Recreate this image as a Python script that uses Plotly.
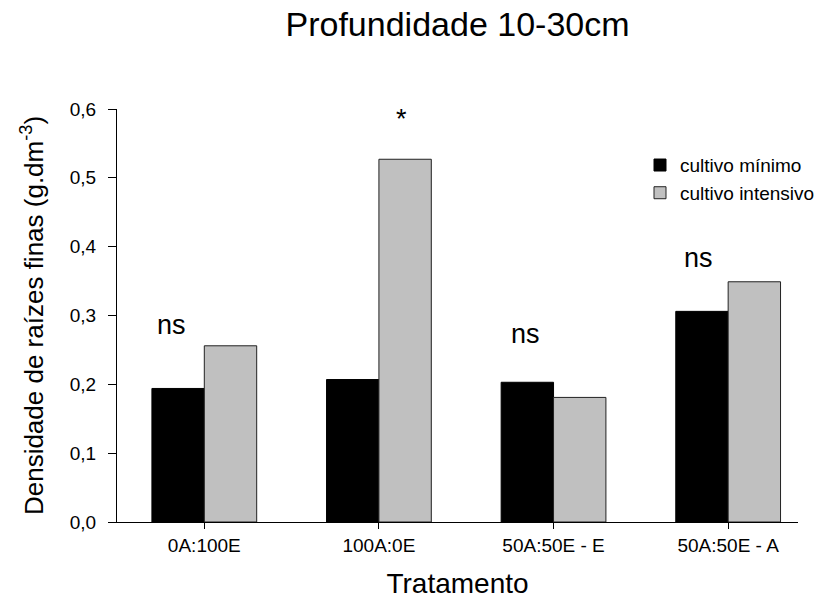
import plotly.graph_objects as go

categorias = ["0A:100E", "100A:0E", "50A:50E - E", "50A:50E - A"]
cultivo_minimo = [0.194, 0.207, 0.203, 0.306]
cultivo_intensivo = [0.256, 0.527, 0.181, 0.349]
nomes_series = ["cultivo mínimo", "cultivo intensivo"]

sig_texto = ["ns", "*", "ns", "ns"]
sig_x = [-0.19, 1.127, 1.841, 2.829]
sig_y = [0.286, 0.585, 0.273, 0.384]

FONT = "Liberation Sans, Arial, sans-serif"
idx = list(range(len(categorias)))

fig = go.Figure()
fig.add_trace(go.Bar(x=idx, y=cultivo_minimo, name=nomes_series[0],
                     marker=dict(color="#000000", line=dict(color="#000000", width=1))))
fig.add_trace(go.Bar(x=idx, y=cultivo_intensivo, name=nomes_series[1],
                     marker=dict(color="#C0C0C0", line=dict(color="#222222", width=1))))

for t, x, y in zip(sig_texto, sig_x, sig_y):
    fig.add_annotation(x=x, y=y, xref="x", yref="y", text=t, showarrow=False,
                       font=dict(family=FONT, size=27, color="black"),
                       xanchor="center", yanchor="middle")

fig.update_layout(
    width=834, height=599,
    margin=dict(l=117, r=36, t=109, b=77),
    paper_bgcolor="white", plot_bgcolor="white",
    separators=", ",
    barmode="group", bargap=0.4, bargroupgap=0,
    font=dict(family=FONT, color="black"),
    title=dict(text="Profundidade 10-30cm", x=0.5486, xref="container", xanchor="center",
               y=1 - 24 / 599, yref="container", yanchor="middle",
               font=dict(family=FONT, size=34, color="black")),
    legend=dict(x=0.768, y=0.91, xanchor="left", yanchor="top",
                bgcolor="rgba(0,0,0,0)", font=dict(family=FONT, size=19, color="black"),
                tracegroupgap=0),
    showlegend=True,
)

fig.update_xaxes(
    tickmode="array", tickvals=idx, ticktext=categorias,
    range=[-0.5, 3.4], showgrid=False, zeroline=False,
    showline=True, linecolor="black", linewidth=1,
    ticks="outside", ticklen=6, tickcolor="black",
    tickfont=dict(family=FONT, size=19, color="black"),
    automargin=False,
    title=dict(text="Tratamento", font=dict(family=FONT, size=28, color="black"), standoff=18),
)
fig.update_yaxes(
    range=[0, 0.6], tickvals=[0, 0.1, 0.2, 0.3, 0.4, 0.5, 0.6], tickformat=".1f",
    showgrid=False, zeroline=False,
    showline=True, linecolor="black", linewidth=1,
    ticks="outside", ticklen=8, tickcolor="black",
    ticklabelstandoff=8,
    automargin=False,
    tickfont=dict(family=FONT, size=19, color="black"),
    title=dict(text="Densidade de raízes finas (g.dm<sup>-3</sup>)",
               font=dict(family=FONT, size=26, color="black"), standoff=18),
)

fig.write_html("out.html")
